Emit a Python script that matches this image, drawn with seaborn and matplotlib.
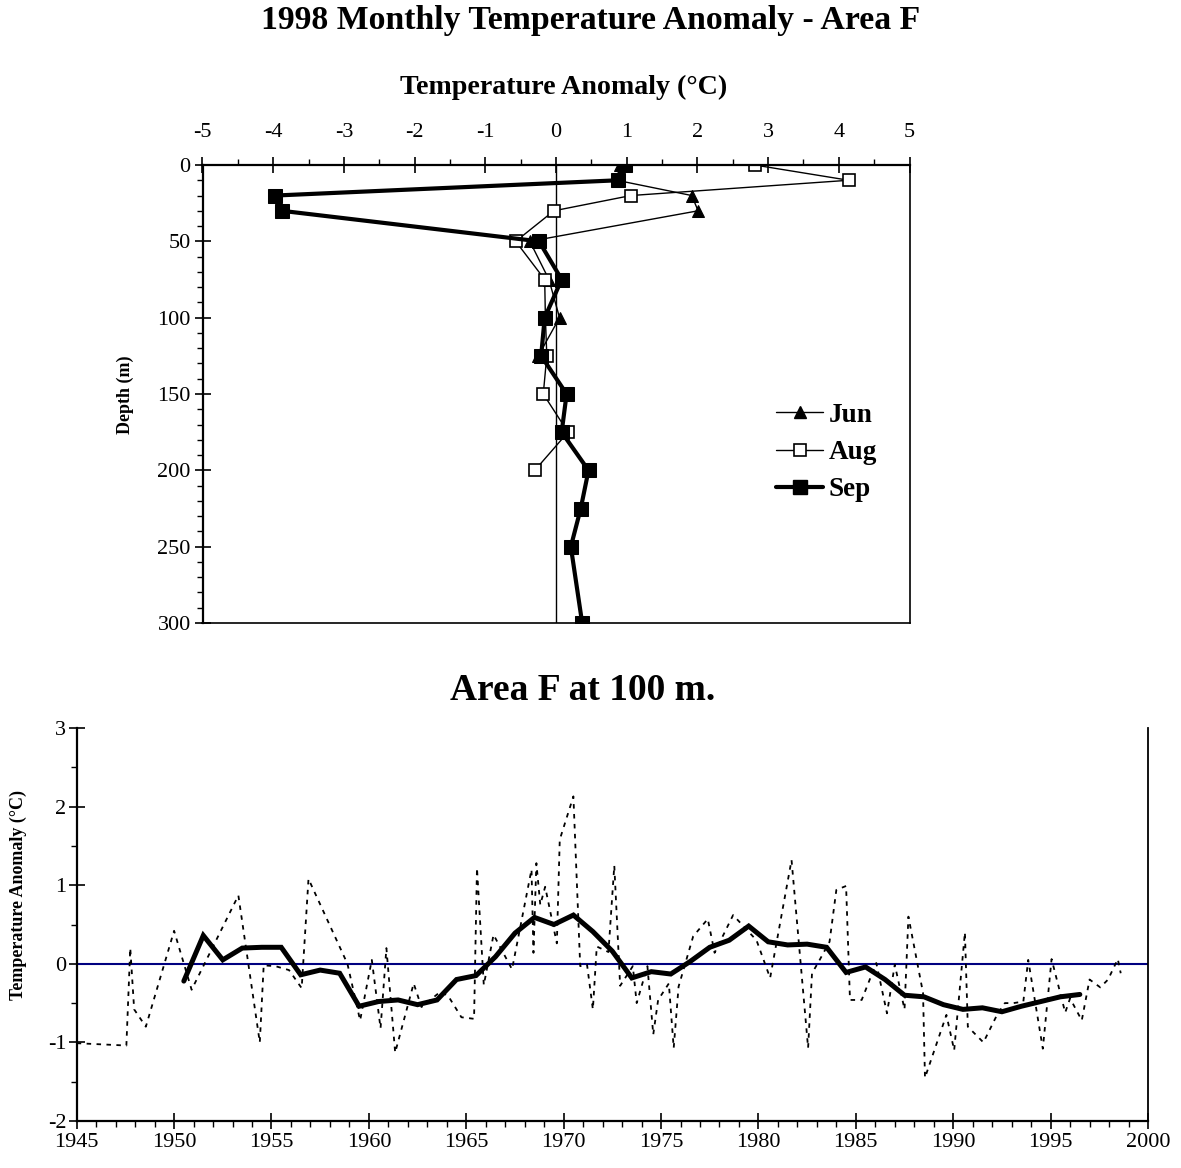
import numpy as np
import pandas as pd
import matplotlib
matplotlib.use("Agg")
import matplotlib.pyplot as plt
import seaborn as sns
from matplotlib.ticker import MultipleLocator
from matplotlib.lines import Line2D

# ---------------- data ----------------
# top panel: 1998 profiles (depth in m, anomaly in degC)
depth_jun = [0, 10, 20, 30, 50, 75, 100, 125]
anom_jun = [0.90, 0.86, 1.92, 2.01, -0.37, -0.10, 0.05, -0.25]

depth_aug = [0, 10, 20, 30, 50, 75, 100, 125, 150, 175, 200]
anom_aug = [2.81, 4.14, 1.06, -0.03, -0.57, -0.16, -0.15, -0.13, -0.18, 0.17, -0.30]

depth_sep = [0, 10, 20, 30, 50, 75, 100, 125, 150, 175, 200, 225, 250, 300]
anom_sep = [0.98, 0.88, -3.97, -3.88, -0.24, 0.08, -0.16, -0.21, 0.15, 0.08, 0.46, 0.35, 0.21, 0.37]

month_labels = ["Jun", "Aug", "Sep"]

# bottom panel: time series at 100 m
obs_year = [1945.0, 1947.55, 1947.75, 1947.95, 1948.55, 1950.0, 1950.9, 1953.3, 1954.4, 1954.6,
            1955.2, 1955.9, 1956.55, 1956.9, 1958.9, 1959.55, 1960.15, 1960.6, 1960.9, 1961.35,
            1962.3, 1962.7, 1963.7, 1964.1, 1964.75, 1965.4, 1965.55, 1965.9, 1966.4, 1967.35,
            1968.35, 1968.45, 1968.6, 1968.8, 1969.05, 1969.65, 1969.8, 1970.5, 1970.85, 1971.2,
            1971.5, 1971.7, 1972.3, 1972.6, 1972.9, 1973.55, 1973.75, 1974.3, 1974.6, 1974.85,
            1975.4, 1975.65, 1975.9, 1976.65, 1977.4, 1977.75, 1978.7, 1979.9, 1980.6, 1981.7,
            1982.55, 1982.75, 1983.1, 1983.65, 1984.0, 1984.5, 1984.7, 1985.3, 1986.05, 1986.6,
            1987.0, 1987.5, 1987.7, 1988.45, 1988.55, 1989.65, 1990.05, 1990.6, 1990.75, 1991.55,
            1992.25, 1992.65, 1993.1, 1993.6, 1993.85, 1994.6, 1995.05, 1995.75, 1996.0, 1996.6,
            1997.0, 1997.55, 1997.95, 1998.45, 1998.6]
obs_anom = [-1.01, -1.04, 0.20, -0.58, -0.80, 0.42, -0.33, 0.87, -1.00, -0.02,
            -0.03, -0.08, -0.31, 1.08, 0.00, -0.72, 0.05, -0.82, 0.20, -1.13,
            -0.25, -0.55, -0.35, -0.42, -0.68, -0.70, 1.22, -0.27, 0.37, -0.07,
            1.20, 0.14, 1.28, 0.75, 0.98, 0.26, 1.58, 2.13, -0.03, -0.01,
            -0.58, 0.22, 0.15, 1.25, -0.28, -0.03, -0.50, -0.03, -0.90, -0.46,
            -0.25, -1.07, -0.29, 0.35, 0.57, 0.14, 0.62, 0.30, -0.18, 1.32,
            -1.07, -0.12, 0.03, 0.28, 0.94, 0.99, -0.46, -0.46, 0.01, -0.63,
            -0.01, -0.58, 0.60, -0.37, -1.45, -0.65, -1.10, 0.40, -0.80, -1.00,
            -0.65, -0.50, -0.50, -0.48, 0.05, -1.08, 0.06, -0.62, -0.44, -0.72,
            -0.20, -0.30, -0.20, 0.06, -0.12]

mean_year = [1950.5 + i for i in range(47)]
mean_anom = [-0.22, 0.36, 0.05, 0.20, 0.21, 0.21, -0.14, -0.08, -0.12, -0.54,
             -0.48, -0.46, -0.52, -0.46, -0.20, -0.15, 0.09, 0.39, 0.59, 0.50,
             0.62, 0.41, 0.16, -0.18, -0.10, -0.13, 0.03, 0.21, 0.30, 0.48,
             0.28, 0.24, 0.25, 0.21, -0.11, -0.04, -0.20, -0.40, -0.42, -0.52,
             -0.58, -0.56, -0.61, -0.54, -0.48, -0.42, -0.39]

top_xticks = list(range(-5, 6))
bottom_xticks = list(range(1945, 2001, 5))

# ---------------- style ----------------
sns.set_theme(style="white")
plt.rcParams['font.family'] = ['Liberation Serif', 'DejaVu Serif']
plt.rcParams['axes.unicode_minus'] = False
plt.rcParams['mathtext.default'] = 'regular'
for k in ['text.color', 'axes.labelcolor', 'xtick.color', 'ytick.color',
          'axes.edgecolor']:
    plt.rcParams[k] = 'black'

W, H = 1181, 1168
fig = plt.figure(figsize=(W / 100, H / 100), dpi=100)
fig.patch.set_facecolor('white')


def rect(l, t, r, b):
    return [l / W, 1 - b / H, (r - l) / W, (b - t) / H]


# ================= top panel =================
ax1 = fig.add_axes(rect(202.5, 165, 909.5, 623))
ax1.set_facecolor('white')

sns.lineplot(x=anom_jun, y=depth_jun, sort=False, estimator=None, ax=ax1,
             color='black', lw=1.0, marker='^', markersize=9,
             markerfacecolor='black', markeredgecolor='black', label=month_labels[0])
sns.lineplot(x=anom_aug, y=depth_aug, sort=False, estimator=None, ax=ax1,
             color='black', lw=1.0, marker='s', markersize=8.5,
             markerfacecolor='white', markeredgecolor='black', markeredgewidth=1.2,
             label=month_labels[1])
sns.lineplot(x=anom_sep, y=depth_sep, sort=False, estimator=None, ax=ax1,
             color='black', lw=3.0, marker='s', markersize=9.5,
             markerfacecolor='black', markeredgecolor='black', label=month_labels[2])

ax1.axvline(0, color='black', lw=1.0, zorder=1)
ax1.set_xlim(-5, 5)
ax1.set_ylim(300, 0)
ax1.xaxis.tick_top()
ax1.set_xticks(top_xticks)
ax1.set_xticklabels([str(v) for v in top_xticks])
ax1.xaxis.set_minor_locator(MultipleLocator(0.5))
ax1.set_yticks(range(0, 301, 50))
ax1.yaxis.set_minor_locator(MultipleLocator(10))
ax1.set_xlabel('')
ax1.set_ylabel('')
for s in ['left', 'top']:
    ax1.spines[s].set_linewidth(1.6)
for s in ['right', 'bottom']:
    ax1.spines[s].set_linewidth(1.2)
for s in ax1.spines.values():
    s.set_color('black')
    s.set_visible(True)
ax1.tick_params(axis='x', which='major', top=True, bottom=False, direction='inout',
                length=11, width=1.2, labelsize=16, pad=11, colors='black')
ax1.tick_params(axis='x', which='minor', top=True, bottom=False, direction='out',
                length=4.5, width=1.0)
ax1.tick_params(axis='y', which='major', left=True, right=False, direction='inout',
                length=11, width=1.2, labelsize=16, pad=3, colors='black')
ax1.tick_params(axis='y', which='minor', left=True, right=False, direction='out',
                length=4.5, width=1.0)

ax1.get_legend().remove()
handles = [
    Line2D([], [], color='black', lw=1.0, marker='^', markersize=9,
           markerfacecolor='black', markeredgecolor='black'),
    Line2D([], [], color='black', lw=1.0, marker='s', markersize=8.5,
           markerfacecolor='white', markeredgecolor='black', markeredgewidth=1.2),
    Line2D([], [], color='black', lw=3.0, marker='s', markersize=9.5,
           markerfacecolor='black', markeredgecolor='black'),
]
leg = fig.legend(handles, month_labels, loc='upper left',
                 bbox_to_anchor=(757 / W, 1 - 384 / H), frameon=False,
                 prop={'family': 'Liberation Serif', 'weight': 'bold', 'size': 19.5},
                 handlelength=1.75, handletextpad=0.2, labelspacing=0.45,
                 borderpad=0.2)

fig.text(591 / W, 1 - 20 / H, '1998 Monthly Temperature Anomaly - Area F',
         ha='center', va='center', fontsize=24.3, fontweight='bold')
fig.text(564 / W, 1 - 87 / H, 'Temperature Anomaly (°C)',
         ha='center', va='center', fontsize=20.2, fontweight='bold')
fig.text(125 / W, 1 - 395 / H, 'Depth (m)', rotation=90,
         ha='center', va='center', fontsize=13, fontweight='bold')

# ================= bottom panel =================
ax2 = fig.add_axes(rect(76.7, 728, 1148, 1121))
ax2.set_facecolor('white')

ax2.axhline(0, color='#000080', lw=1.5, zorder=1)
sns.lineplot(x=obs_year, y=obs_anom, sort=False, estimator=None, ax=ax2,
             color='black', lw=1.3, linestyle=(0, (2.5, 3.0)))
sns.lineplot(x=mean_year, y=mean_anom, sort=False, estimator=None, ax=ax2,
             color='black', lw=3.6, solid_joinstyle='miter')

ax2.set_xlim(1945, 2000)
ax2.set_ylim(-2, 3)
ax2.set_xticks(bottom_xticks)
ax2.set_xticklabels([str(v) for v in bottom_xticks])
ax2.xaxis.set_minor_locator(MultipleLocator(1))
ax2.set_yticks(range(-2, 4))
ax2.set_yticklabels([str(v) for v in range(-2, 4)])
ax2.yaxis.set_minor_locator(MultipleLocator(0.5))
ax2.set_xlabel('')
ax2.set_ylabel('')
for s in ax2.spines.values():
    s.set_color('black')
ax2.spines['left'].set_linewidth(1.6)
ax2.spines['bottom'].set_linewidth(1.6)
ax2.spines['right'].set_linewidth(1.3)
ax2.spines['top'].set_visible(False)
ax2.tick_params(axis='x', which='major', bottom=True, top=False, direction='inout',
                length=11, width=1.2, labelsize=16, pad=3, colors='black')
ax2.tick_params(axis='x', which='minor', bottom=True, top=False, direction='out',
                length=4.5, width=1.0)
ax2.tick_params(axis='y', which='major', left=True, right=False, direction='inout',
                length=11, width=1.2, labelsize=16, pad=2, colors='black')
ax2.tick_params(axis='y', which='minor', left=True, right=False, direction='out',
                length=4.5, width=1.0)

fig.text(583 / W, 1 - 690 / H, 'Area F at 100 m.',
         ha='center', va='center', fontsize=27, fontweight='bold')
fig.text(18 / W, 1 - 895 / H, 'Temperature Anomaly (°C)', rotation=90,
         ha='center', va='center', fontsize=13, fontweight='bold')

fig.savefig('out.png', dpi=100, facecolor='white')
